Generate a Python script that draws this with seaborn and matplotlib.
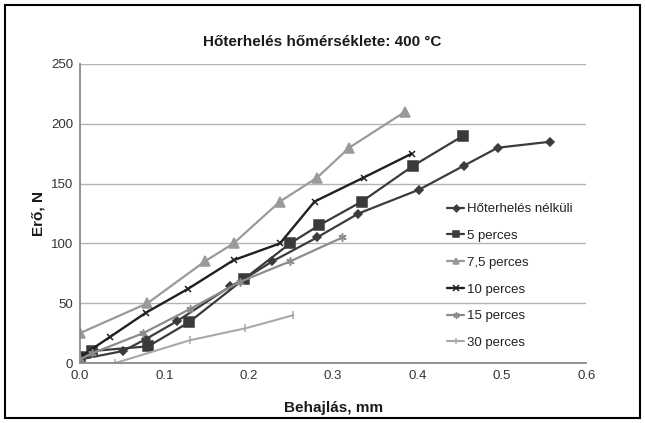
import matplotlib
matplotlib.use("Agg")
import matplotlib.pyplot as plt
from matplotlib.patches import Rectangle
import seaborn as sns

# Deflection (mm) and force (N) readings for each heat-load duration
nelkuli_x = [0.0, 0.051, 0.078, 0.115, 0.178, 0.194, 0.228, 0.281, 0.330, 0.402, 0.455, 0.495, 0.557]
nelkuli_y = [3, 10, 20, 35, 64, 70, 85, 105, 125, 145, 165, 180, 185]

p5_x = [0.0, 0.014, 0.081, 0.129, 0.194, 0.249, 0.283, 0.334, 0.395, 0.454]
p5_y = [5, 10, 14, 34, 70, 100, 115, 135, 165, 190]

p75_x = [0.0, 0.080, 0.148, 0.182, 0.237, 0.281, 0.319, 0.385]
p75_y = [25, 50, 85, 100, 135, 155, 180, 210]

p10_x = [0.0, 0.036, 0.078, 0.128, 0.182, 0.237, 0.278, 0.336, 0.393]
p10_y = [5, 22, 42, 62, 86, 100, 135, 155, 175]

p15_x = [0.0, 0.014, 0.075, 0.130, 0.190, 0.249, 0.311]
p15_y = [3, 8, 25, 45, 68, 85, 105]

p30_x = [0.042, 0.130, 0.196, 0.253]
p30_y = [0, 19, 29, 40]

series = [
    ("Hőterhelés nélküli", nelkuli_x, nelkuli_y, "#3c3c3c", "D", 4.5, 1.6),
    ("5 perces", p5_x, p5_y, "#3a3a3a", "s", 6.5, 1.6),
    ("7,5 perces", p75_x, p75_y, "#9a9a9a", "^", 6.5, 1.6),
    ("10 perces", p10_x, p10_y, "#202020", "x", 5, 1.7),
    ("15 perces", p15_x, p15_y, "#8c8c8c", (6, 2, 0), 6, 1.6),
    ("30 perces", p30_x, p30_y, "#a8a8a8", "|", 6, 1.5),
]

sns.set_theme(style="white")
plt.rcParams["font.family"] = ["Liberation Sans", "DejaVu Sans"]

fig = plt.figure(figsize=(6.45, 4.23), dpi=100)
ax = fig.add_axes([0.124, 0.1418, 0.785, 0.7069])

for label, xs, ys, color, marker, ms, lw in series:
    sns.lineplot(x=xs, y=ys, ax=ax, color=color, marker=marker, markersize=ms,
                 markeredgecolor=color, markerfacecolor=color, markeredgewidth=1.1,
                 linewidth=lw, label=label, sort=False, estimator=None)

ax.set_xlim(0, 0.6)
ax.set_ylim(0, 250)
ax.set_xticks([0.0, 0.1, 0.2, 0.3, 0.4, 0.5, 0.6])
ax.set_xticklabels(["0.0", "0.1", "0.2", "0.3", "0.4", "0.5", "0.6"])
ax.set_yticks([0, 50, 100, 150, 200, 250])
ax.tick_params(axis="both", labelsize=9.5, colors="#333333", length=0, pad=5)
ax.yaxis.grid(True, color="#b4b4b4", linewidth=1.0)
ax.set_axisbelow(True)
for side in ("top", "right"):
    ax.spines[side].set_visible(False)
for side in ("left", "bottom"):
    ax.spines[side].set_color("#8a8a8a")
    ax.spines[side].set_linewidth(1.3)

ax.set_xlabel("Behajlás, mm", fontsize=11, fontweight="bold", color="#1a1a1a", labelpad=14)
ax.set_ylabel("Erő, N", fontsize=11, fontweight="bold", color="#1a1a1a", labelpad=4)
fig.text(0.5, 0.9, "Hőterhelés hőmérséklete: 400 °C", ha="center", va="center",
         fontsize=11, fontweight="bold", color="#1a1a1a")

leg = ax.legend(loc="upper left", bbox_to_anchor=(0.675, 0.548), bbox_transform=fig.transFigure,
                frameon=False, fontsize=9.5, handlelength=1.3, handletextpad=0.2,
                labelspacing=1.1, markerscale=0.75)
for t in leg.get_texts():
    t.set_color("#222222")

fig.patches.append(Rectangle((0.008, 0.012), 0.984, 0.976, transform=fig.transFigure,
                             fill=False, edgecolor="black", linewidth=1.5))

fig.savefig("out.png", dpi=100, facecolor="white")
